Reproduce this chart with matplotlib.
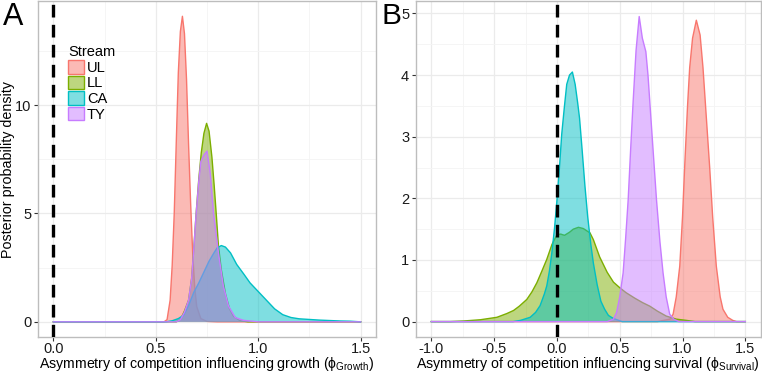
import numpy as np
import matplotlib
matplotlib.use("Agg")
import matplotlib.pyplot as plt
from matplotlib.patches import Patch
from matplotlib.ticker import MultipleLocator, FormatStrFormatter

plt.rcParams['font.family'] = ['Liberation Sans', 'DejaVu Sans']
plt.rcParams['mathtext.fontset'] = 'custom'
plt.rcParams['mathtext.rm'] = 'Liberation Sans'
plt.rcParams['mathtext.it'] = 'Liberation Sans:italic'

streams = ['UL', 'LL', 'CA', 'TY']
colors = ['#F8766D', '#7CAE00', '#00BFC4', '#C77CFF']

# panel A: posterior density of phi_growth
UL_A_x = [0.0, 0.54, 0.555, 0.57, 0.58, 0.59, 0.60, 0.61, 0.62, 0.63, 0.64, 0.65,
          0.66, 0.67, 0.68, 0.69, 0.70, 0.72, 0.75, 0.80, 1.5]
UL_A_y = [0, 0, 0.1, 1.0, 2.6, 5.0, 8.3, 11.5, 13.4, 14.1, 13.3, 11.2,
          8.2, 5.5, 3.2, 1.6, 0.7, 0.15, 0.02, 0, 0]
LL_A_x = [0.0, 0.60, 0.62, 0.64, 0.66, 0.675, 0.685, 0.697, 0.71, 0.722, 0.735, 0.748,
          0.76, 0.774, 0.785, 0.795, 0.806, 0.82, 0.84, 0.86, 0.88, 0.91, 0.95, 1.5]
LL_A_y = [0, 0, 0.1, 0.5, 1.0, 2.0, 3.3, 5.0, 6.6, 7.8, 8.7, 9.16,
          8.8, 7.6, 6.3, 5.0, 3.5, 2.4, 1.3, 0.6, 0.25, 0.06, 0, 0]
CA_A_x = [0.0, 0.55, 0.58, 0.61, 0.635, 0.66, 0.685, 0.71, 0.735, 0.76, 0.785, 0.80,
          0.82, 0.84, 0.865, 0.895, 0.93, 0.96, 1.0, 1.04, 1.08, 1.12, 1.16, 1.2,
          1.3, 1.4, 1.45, 1.5]
CA_A_y = [0, 0, 0.05, 0.15, 0.3, 0.75, 1.35, 1.8, 2.3, 2.8, 3.2, 3.42,
          3.52, 3.45, 3.18, 2.65, 2.2, 1.8, 1.4, 1.0, 0.6, 0.33, 0.2, 0.14,
          0.08, 0.04, 0.03, 0]
TY_A_x = [0.0, 0.60, 0.62, 0.64, 0.66, 0.675, 0.685, 0.697, 0.71, 0.72, 0.735, 0.75,
          0.766, 0.782, 0.806, 0.83, 0.855, 0.888, 0.928, 0.97, 1.0, 1.5]
TY_A_y = [0, 0, 0.1, 0.45, 1.0, 2.0, 3.3, 5.0, 6.5, 7.4, 7.7, 7.88,
          6.84, 5.0, 3.17, 1.65, 0.73, 0.2, 0.07, 0.03, 0, 0]

# panel B: posterior density of phi_survival
UL_B_x = [-1.0, 0.80, 0.90, 0.925, 0.95, 0.978, 1.0, 1.017, 1.04, 1.057, 1.08, 1.11,
          1.14, 1.163, 1.19, 1.216, 1.24, 1.269, 1.30, 1.322, 1.36, 1.40, 1.43, 1.5]
UL_B_y = [0, 0, 0.04, 0.12, 0.4, 0.9, 1.7, 2.51, 3.5, 4.12, 4.6, 4.89,
          4.65, 4.12, 3.3, 2.51, 1.7, 0.9, 0.4, 0.2, 0.07, 0.02, 0, 0]
LL_B_x = [-1.0, -0.85, -0.743, -0.61, -0.478, -0.40, -0.346, -0.30, -0.24, -0.20, -0.16,
          -0.12, -0.081, -0.04, 0.0, 0.03, 0.06, 0.10, 0.13, 0.171, 0.21, 0.24, 0.263,
          0.29, 0.34, 0.40, 0.45, 0.50, 0.55, 0.62, 0.68, 0.74, 0.80, 0.87, 0.95,
          1.03, 1.1, 1.5]
LL_B_y = [0, 0, 0.01, 0.03, 0.07, 0.13, 0.18, 0.25, 0.36, 0.48, 0.63,
          0.82, 1.01, 1.25, 1.41, 1.42, 1.40, 1.45, 1.50, 1.53, 1.51, 1.47, 1.44,
          1.33, 1.05, 0.80, 0.64, 0.55, 0.47, 0.38, 0.31, 0.25, 0.17, 0.09, 0.04,
          0.02, 0, 0]
CA_B_x = [-1.0, -0.35, -0.29, -0.213, -0.17, -0.134, -0.10, -0.081, -0.06, -0.041, -0.02,
          0.0, 0.02, 0.038, 0.06, 0.078, 0.10, 0.123, 0.145, 0.165, 0.18, 0.20, 0.223,
          0.245, 0.27, 0.29, 0.32, 0.35, 0.38, 0.41, 0.45, 0.52, 1.5]
CA_B_y = [0, 0, 0.02, 0.07, 0.15, 0.26, 0.45, 0.58, 0.82, 1.11, 1.5,
          1.97, 2.5, 3.04, 3.5, 3.85, 4.0, 4.05, 3.85, 3.55, 3.3, 2.8, 2.2,
          1.7, 1.25, 0.95, 0.6, 0.33, 0.2, 0.1, 0.05, 0, 0]
TY_B_x = [-1.0, 0.40, 0.45, 0.475, 0.50, 0.527, 0.547, 0.567, 0.587, 0.607, 0.63, 0.655,
          0.68, 0.708, 0.725, 0.739, 0.765, 0.793, 0.82, 0.845, 0.87, 0.898, 0.93, 0.97, 1.5]
TY_B_y = [0, 0, 0.04, 0.15, 0.4, 0.79, 1.35, 1.97, 2.8, 3.58, 4.4, 4.95,
          4.6, 4.38, 4.0, 3.58, 2.8, 1.97, 1.3, 0.79, 0.4, 0.12, 0.04, 0, 0]

panel_A = [(UL_A_x, UL_A_y), (LL_A_x, LL_A_y), (CA_A_x, CA_A_y), (TY_A_x, TY_A_y)]
panel_B = [(UL_B_x, UL_B_y), (LL_B_x, LL_B_y), (CA_B_x, CA_B_y), (TY_B_x, TY_B_y)]

fig = plt.figure(figsize=(7.62, 3.74), dpi=100)
axA = fig.add_axes([0.0499, 0.0989, 0.4435, 0.8981])
axB = fig.add_axes([0.5455, 0.0989, 0.4532, 0.8981])

FS = 10.5


def style(ax, xmaj, xmin, ymaj, ymin):
    ax.set_facecolor('white')
    ax.xaxis.set_major_locator(MultipleLocator(xmaj))
    ax.xaxis.set_minor_locator(MultipleLocator(xmin))
    ax.yaxis.set_major_locator(MultipleLocator(ymaj))
    ax.yaxis.set_minor_locator(MultipleLocator(ymin))
    ax.xaxis.set_major_formatter(FormatStrFormatter('%.1f'))
    ax.grid(which='major', color='#EBEBEB', lw=0.9, zorder=0)
    ax.grid(which='minor', color='#F4F4F4', lw=0.6, zorder=0)
    ax.set_axisbelow(True)
    for s in ax.spines.values():
        s.set_color('#BDBDBD')
        s.set_linewidth(1.0)
    ax.tick_params(which='major', length=3.2, width=0.8, color='#333333',
                   labelsize=FS, labelcolor='#1a1a1a', pad=1.5)
    ax.tick_params(axis='x', which='major', pad=0.5)
    ax.tick_params(which='minor', length=0)


for ax, curves in [(axA, panel_A), (axB, panel_B)]:
    for (x, y), c in zip(curves, colors):
        ax.fill_between(x, y, 0, facecolor=c, alpha=0.5, lw=0, zorder=2)
        ax.plot(x, y, color=c, lw=1.0, zorder=2)
    ax.axvline(0, color='black', lw=2.4, linestyle=(0, (3.8, 2.2)), zorder=3)

style(axA, 0.5, 0.25, 5, 2.5)
axA.set_xlim(-0.075, 1.575)
axA.set_ylim(-0.7, 14.8)
axA.set_xlabel(r'Asymmetry of competition influencing growth ($\mathregular{\phi_{Growth}}$)',
               fontsize=10.2)
axA.xaxis.set_label_coords(0.5, -0.054)
axA.set_ylabel('Posterior probability density', fontsize=10.3)
axA.yaxis.set_label_coords(-0.068, 0.5)

style(axB, 0.5, 0.25, 1, 0.5)
axB.set_xlim(-1.125, 1.625)
axB.set_ylim(-0.25, 5.2)
axB.set_xlabel(r'Asymmetry of competition influencing survival ($\mathregular{\phi_{Survival}}$)',
               fontsize=10.2)
axB.xaxis.set_label_coords(0.5, -0.054)

handles = [Patch(facecolor=matplotlib.colors.to_rgba(c, 0.5), edgecolor=c, lw=1.0)
           for c in colors]
axA.legend(handles, streams, title='Stream', loc='upper left',
           bbox_to_anchor=(0.09, 0.868), frameon=False, fontsize=FS,
           title_fontsize=FS, handlelength=1.06, handleheight=1.06,
           handletextpad=0.2, labelspacing=0.05, borderpad=0, borderaxespad=0,
           alignment='left')

fig.text(0.004, 0.995, 'A', fontsize=22, va='top', ha='left')
fig.text(0.5005, 0.995, 'B', fontsize=21.5, va='top', ha='left')

fig.savefig('out.png', dpi=100)
